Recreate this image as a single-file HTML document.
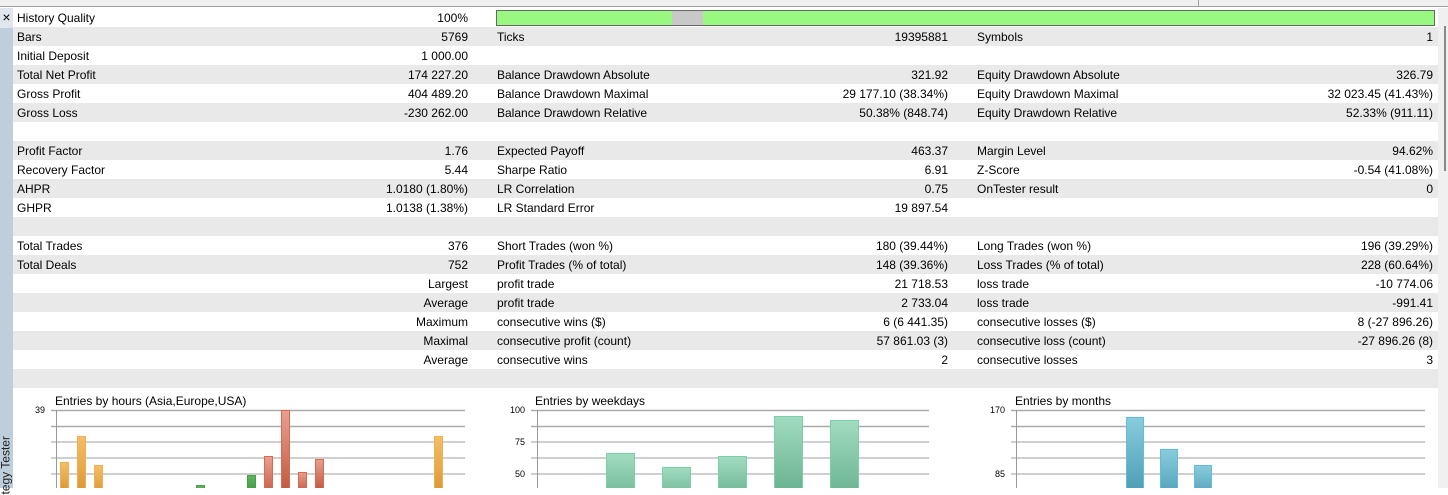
<!DOCTYPE html>
<html><head><meta charset="utf-8"><style>
*{margin:0;padding:0;box-sizing:border-box}
body{width:1448px;height:488px;overflow:hidden;background:#fff;font-family:"Liberation Sans",sans-serif;font-size:12px;color:#000;position:relative}
.a{position:absolute;white-space:nowrap}
.row{position:absolute;left:13px;width:1425px;height:19px}
.g{background:#e9e9e9}
.t{position:absolute;top:3px;line-height:15px}
.r{text-align:right}
</style></head><body>
<div class="a" style="left:0;top:0;width:1448px;height:7px;background:#f0f0f0;border-bottom:1px solid #a0a0a0"></div>
<div class="a" style="left:1198px;top:0;width:1px;height:6px;background:#a0a0a0"></div>
<div class="a" style="left:0;top:8px;width:13px;height:480px;background:#bfcedc"></div>
<div class="a" style="left:0;top:8px;width:13px;height:20px;background:#dfe6ee;font-size:14px;line-height:18px;text-align:center">×</div>
<div class="a" style="left:-32px;top:450px;width:76px;height:13px;transform:rotate(-90deg);font-size:12px;color:#222;line-height:13px">tegy Tester</div>
<div class="a" style="left:1438px;top:8px;width:10px;height:480px;background:#f0f0f0"></div>
<div class="a" style="left:1444px;top:26px;width:2px;height:145px;background:#888"></div>

<div id="rows"></div>
<script>
const R=[
["History Quality","100%","","","",""],
["Bars","5769","Ticks","19395881","Symbols","1"],
["Initial Deposit","1 000.00","","","",""],
["Total Net Profit","174 227.20","Balance Drawdown Absolute","321.92","Equity Drawdown Absolute","326.79"],
["Gross Profit","404 489.20","Balance Drawdown Maximal","29 177.10 (38.34%)","Equity Drawdown Maximal","32 023.45 (41.43%)"],
["Gross Loss","-230 262.00","Balance Drawdown Relative","50.38% (848.74)","Equity Drawdown Relative","52.33% (911.11)"],
["","","","","",""],
["Profit Factor","1.76","Expected Payoff","463.37","Margin Level","94.62%"],
["Recovery Factor","5.44","Sharpe Ratio","6.91","Z-Score","-0.54 (41.08%)"],
["AHPR","1.0180 (1.80%)","LR Correlation","0.75","OnTester result","0"],
["GHPR","1.0138 (1.38%)","LR Standard Error","19 897.54","",""],
["","","","","",""],
["Total Trades","376","Short Trades (won %)","180 (39.44%)","Long Trades (won %)","196 (39.29%)"],
["Total Deals","752","Profit Trades (% of total)","148 (39.36%)","Loss Trades (% of total)","228 (60.64%)"],
["","Largest","profit trade","21 718.53","loss trade","-10 774.06"],
["","Average","profit trade","2 733.04","loss trade","-991.41"],
["","Maximum","consecutive wins ($)","6 (6 441.35)","consecutive losses ($)","8 (-27 896.26)"],
["","Maximal","consecutive profit (count)","57 861.03 (3)","consecutive loss (count)","-27 896.26 (8)"],
["","Average","consecutive wins","2","consecutive losses","3"],
["","","","","",""]];
let h="";
R.forEach((r,k)=>{
h+=`<div class="row${k%2?' g':''}" style="top:${8+19*k}px">`+
`<span class="t" style="left:4px">${r[0]}</span>`+
`<span class="t r" style="right:${1425-455}px">${r[1]}</span>`+
`<span class="t" style="left:484px">${r[2]}</span>`+
`<span class="t r" style="right:${1425-935}px">${r[3]}</span>`+
`<span class="t" style="left:964px">${r[4]}</span>`+
`<span class="t r" style="right:5px">${r[5]}</span></div>`;});
document.getElementById("rows").innerHTML=h;
</script>
<div class="a" style="left:496px;top:10px;width:939px;height:16px;background:#98f87f;border:1px solid #666"></div>
<div class="a" style="left:672px;top:11px;width:31px;height:14px;background:#c8c8c8"></div>

<svg class="a" style="left:0;top:388px" width="1438" height="100" xmlns="http://www.w3.org/2000/svg" font-family="Liberation Sans, sans-serif">
<defs>
<linearGradient id="or" x1="0" y1="0" x2="0" y2="1"><stop offset="0" stop-color="#f6be6a"/><stop offset="1" stop-color="#d8952e"/></linearGradient>
<linearGradient id="gr" x1="0" y1="0" x2="0" y2="1"><stop offset="0" stop-color="#5fb55f"/><stop offset="1" stop-color="#3d8f3d"/></linearGradient>
<linearGradient id="rd" x1="0" y1="0" x2="0" y2="1"><stop offset="0" stop-color="#e8a090"/><stop offset="1" stop-color="#c05a40"/></linearGradient>
<linearGradient id="gn" x1="0" y1="0" x2="0" y2="1"><stop offset="0" stop-color="#a2dcc0"/><stop offset="1" stop-color="#5ea986"/></linearGradient>
<linearGradient id="bl" x1="0" y1="0" x2="0" y2="1"><stop offset="0" stop-color="#8accdc"/><stop offset="1" stop-color="#3e93ad"/></linearGradient>
</defs>
<g font-size="12" fill="#000">
<text x="55" y="17">Entries by hours (Asia,Europe,USA)</text>
<text x="535" y="17">Entries by weekdays</text>
<text x="1015" y="17">Entries by months</text>
</g>
<g font-size="9" fill="#000" text-anchor="end">
<text x="45" y="25">39</text>
<text x="525" y="25">100</text><text x="525" y="57">75</text><text x="525" y="89">50</text>
<text x="1005" y="25">170</text><text x="1005" y="89">85</text>
</g>
<g stroke-width="2">
<path d="M51 22.5H465M51 38.5H465M531 22.5H929M531 38.5H929M1011 22.5H1425M1011 38.5H1425" stroke="#aaa" stroke-width="1.5"/>
<path d="M51 54H465M51 70H465M51 86H465M531 54H929M531 70H929M531 86H929M1011 54H1425M1011 70H1425M1011 86H1425" stroke="#cfcfcf"/>
</g>
<path d="M56.5 22V100M537.5 22V100M1016.5 22V100" stroke="#999"/>
<g stroke-width="1">
<rect x="60.5" y="74.5" width="8" height="30" fill="url(#or)" stroke="#f0b050"/>
<rect x="77.5" y="48.5" width="8" height="60" fill="url(#or)" stroke="#f0b050"/>
<rect x="94.5" y="77.5" width="8" height="30" fill="url(#or)" stroke="#f0b050"/>
<rect x="434.5" y="48.5" width="8" height="60" fill="url(#or)" stroke="#f0b050"/>
<rect x="196.5" y="97.5" width="8" height="10" fill="url(#gr)" stroke="#4a9e4a"/>
<rect x="247.5" y="87.5" width="8" height="20" fill="url(#gr)" stroke="#4a9e4a"/>
<rect x="264.5" y="68.5" width="8" height="40" fill="url(#rd)" stroke="#d86a50"/>
<rect x="281.5" y="22.5" width="8" height="80" fill="url(#rd)" stroke="#d86a50"/>
<rect x="298.5" y="84.5" width="8" height="20" fill="url(#rd)" stroke="#d86a50"/>
<rect x="315.5" y="71.5" width="8" height="30" fill="url(#rd)" stroke="#d86a50"/>
<rect x="606.5" y="65.5" width="28" height="60" fill="url(#gn)" stroke="#7ad0a8"/>
<rect x="662.5" y="79.5" width="28" height="40" fill="url(#gn)" stroke="#7ad0a8"/>
<rect x="718.5" y="68.5" width="28" height="50" fill="url(#gn)" stroke="#7ad0a8"/>
<rect x="774.5" y="28.5" width="28" height="90" fill="url(#gn)" stroke="#7ad0a8"/>
<rect x="830.5" y="32.5" width="28" height="90" fill="url(#gn)" stroke="#7ad0a8"/>
<rect x="1126.5" y="29.5" width="17" height="90" fill="url(#bl)" stroke="#5cc0dc"/>
<rect x="1160.5" y="61.5" width="17" height="60" fill="url(#bl)" stroke="#5cc0dc"/>
<rect x="1194.5" y="77.5" width="17" height="40" fill="url(#bl)" stroke="#5cc0dc"/>
</g>
</svg>
</body></html>
